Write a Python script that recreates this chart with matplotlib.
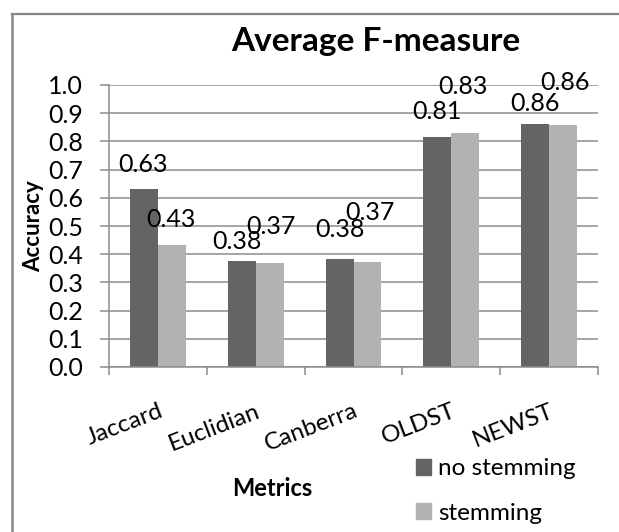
import matplotlib

matplotlib.use("Agg")

import matplotlib.pyplot as plt
import numpy as np
from matplotlib.lines import Line2D
from matplotlib.patches import Patch
from matplotlib.ticker import MultipleLocator

categories = ["Jaccard", "Euclidian", "Canberra", "OLDST", "NEWST"]
no_stemming = [0.631, 0.376, 0.383, 0.816, 0.862]
stemming = [0.433, 0.369, 0.372, 0.830, 0.858]
no_stemming_text = ["0.63", "0.38", "0.38", "0.81", "0.86"]
stemming_text = ["0.43", "0.37", "0.37", "0.83", "0.86"]
y_ticks = [0.0, 0.1, 0.2, 0.3, 0.4, 0.5, 0.6, 0.7, 0.8, 0.9, 1.0]

# hand-dragged label offsets in the original (pixels, dx / dy above bar top)
dark_off = [(-1, 25), (-5, 19), (0, 29), (0, 25), (0, 20)]
light_off = [(-1, 25), (1, 36), (2, 50), (-2, 46), (2, 43)]

DARK = "#646464"
LIGHT = "#b2b2b2"
GRID = "#8c8c8c"
FONT = "Lato"
NUM_SIZE = 18

plt.rcParams["font.family"] = [FONT, "DejaVu Sans"]

fig = plt.figure(figsize=(6.19, 5.32), dpi=100)
ax = fig.add_axes([109 / 619, 1 - 367 / 532, 489 / 619, 282 / 532])

x = np.arange(len(categories))
w = 0.286
b1 = ax.bar(x - w / 2, no_stemming, w, color=DARK, label="no stemming")
b2 = ax.bar(x + w / 2, stemming, w, color=LIGHT, label="stemming")

for rect, txt, (dx, dy) in zip(b1, no_stemming_text, dark_off):
    ax.annotate(txt, (rect.get_x() + rect.get_width() / 2, rect.get_height()),
                xytext=(dx, dy), textcoords="offset pixels",
                ha="center", va="center", fontsize=NUM_SIZE, color="black")
for rect, txt, (dx, dy) in zip(b2, stemming_text, light_off):
    ax.annotate(txt, (rect.get_x() + rect.get_width() / 2, rect.get_height()),
                xytext=(dx, dy), textcoords="offset pixels",
                ha="center", va="center", fontsize=NUM_SIZE, color="black")

ax.set_xlim(-0.5, len(categories) - 0.5)
ax.set_ylim(0, 1.0)
ax.set_yticks(y_ticks)
ax.set_yticklabels([f"{v:.1f}" for v in y_ticks])
ax.yaxis.grid(True, color=GRID, lw=1.1)
ax.set_axisbelow(True)

ax.set_xticks(x)
ax.set_xticklabels(categories, rotation=21, ha="right", rotation_mode="anchor")
ax.xaxis.set_minor_locator(MultipleLocator(1, offset=0.5))
ax.tick_params(axis="x", which="major", length=0, pad=24, labelsize=17.5)
ax.tick_params(axis="x", which="minor", length=6, width=1.1, color=GRID, direction="out")
ax.tick_params(axis="y", length=6.5, width=1.1, color=GRID, pad=12, labelsize=NUM_SIZE)

for side in ("top", "right"):
    ax.spines[side].set_visible(False)
for side in ("left", "bottom"):
    ax.spines[side].set_color(GRID)
    ax.spines[side].set_linewidth(1.1)

fig.text(376 / 619, 1 - 41 / 532, "Average F-measure", ha="center", va="center",
         fontsize=24, fontweight="bold")
fig.text(34 / 619, 1 - 226 / 532, "Accuracy", ha="center", va="center",
         rotation=90, fontsize=16, fontweight="bold")
fig.text(272 / 619, 1 - 488 / 532, "Metrics", ha="center", va="center",
         fontsize=17, fontweight="bold")

handles = [Patch(color=DARK, label="no stemming"), Patch(color=LIGHT, label="stemming")]
fig.legend(handles=handles, loc="center left", bbox_to_anchor=(416 / 619, 1 - 491 / 532),
           frameon=False, fontsize=17.5, handlelength=0.6, handleheight=0.6,
           handletextpad=0.3, labelspacing=0.95, borderpad=0, borderaxespad=0)

# chart frame, cropped on the right and bottom
fig.add_artist(Line2D([12 / 619, 12 / 619], [0, 1 - 14 / 532], color="#868686", lw=1.8))
fig.add_artist(Line2D([12 / 619, 1], [1 - 14 / 532, 1 - 14 / 532], color="#868686", lw=1.6))

fig.savefig("out.png", dpi=100)
